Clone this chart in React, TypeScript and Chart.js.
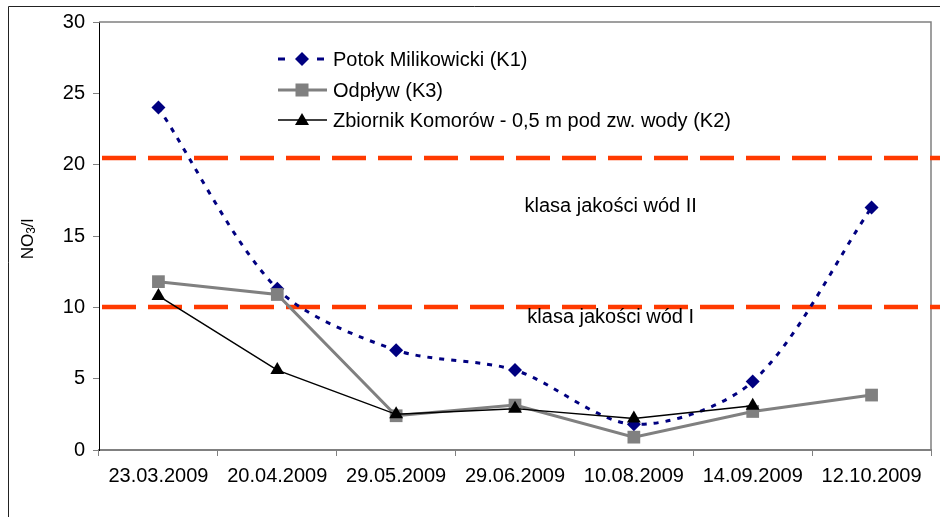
import React, { useEffect, useRef } from 'react';
import { Chart, registerables } from 'chart.js';

Chart.register(...registerables);

const categories = ['23.03.2009', '20.04.2009', '29.05.2009', '29.06.2009', '10.08.2009', '14.09.2009', '12.10.2009'];
const potokK1 = [24.0, 11.3, 7.0, 5.6, 1.8, 4.8, 17.0];
const odplywK3 = [11.8, 10.9, 2.4, 3.15, 0.9, 2.7, 3.85];
const zbiornikK2 = [10.8, 5.6, 2.5, 2.9, 2.2, 3.1, null];
const seriesNames = ['Potok Milikowicki (K1)', 'Odpływ (K3)', 'Zbiornik Komorów - 0,5 m pod zw. wody (K2)'];
const thresholds = [20.5, 10];
const classTexts = ['klasa jakości wód II', 'klasa jakości wód I'];
const classValues = [17.1, 9.3];
const yMin = 0;
const yMax = 30;
const yStep = 5;

const FONT = "'Liberation Sans', Arial, sans-serif";
const NAVY = '#000080';
const GREY = '#808080';
const RED = '#ff3a00';

const decorPlugin = {
  id: 'decor',
  beforeDraw(chart: any) {
    const { ctx, width, height } = chart;
    ctx.save();
    ctx.fillStyle = '#ffffff';
    ctx.fillRect(0, 0, width, height);
    ctx.strokeStyle = '#222222';
    ctx.lineWidth = 1;
    ctx.beginPath();
    ctx.moveTo(8.5, height + 5);
    ctx.lineTo(8.5, 6.5);
    ctx.lineTo(width + 5, 6.5);
    ctx.stroke();
    ctx.restore();
  },
  beforeDatasetsDraw(chart: any) {
    const { ctx, chartArea, width } = chart;
    const y = chart.scales.y;
    ctx.save();
    ctx.strokeStyle = GREY;
    ctx.lineWidth = 1.5;
    ctx.beginPath();
    ctx.moveTo(chartArea.left, chartArea.top);
    ctx.lineTo(chartArea.right, chartArea.top);
    ctx.lineTo(chartArea.right, chartArea.bottom);
    ctx.stroke();

    // threshold lines
    ctx.strokeStyle = RED;
    ctx.lineWidth = 4.5;
    ctx.setLineDash([34, 12]);
    thresholds.forEach((t) => {
      const py = Math.round(y.getPixelForValue(t));
      ctx.beginPath();
      ctx.moveTo(chartArea.left + 3, py);
      ctx.lineTo(width, py);
      ctx.stroke();
    });
    ctx.setLineDash([]);

    // class labels
    ctx.fillStyle = '#000';
    ctx.font = `20px ${FONT}`;
    ctx.textAlign = 'center';
    ctx.textBaseline = 'middle';
    const cx = chartArea.left + (chartArea.right - chartArea.left) * 0.615;
    classTexts.forEach((t, i) => {
      ctx.fillText(t, cx, y.getPixelForValue(classValues[i]));
    });
    ctx.restore();
  },
  afterDatasetsDraw(chart: any) {
    const { ctx, chartArea } = chart;
    ctx.save();
    // legend
    const lx = chartArea.left + 179;
    const rows = [chartArea.top + 37, chartArea.top + 68, chartArea.top + 98];
    ctx.font = `20px ${FONT}`;
    ctx.textAlign = 'left';
    ctx.textBaseline = 'middle';
    // row 1
    ctx.strokeStyle = NAVY;
    ctx.lineWidth = 3;
    ctx.beginPath();
    ctx.moveTo(lx, rows[0]);
    ctx.lineTo(lx + 7, rows[0]);
    ctx.moveTo(lx + 39, rows[0]);
    ctx.lineTo(lx + 46, rows[0]);
    ctx.stroke();
    ctx.fillStyle = NAVY;
    ctx.beginPath();
    const dx = lx + 24;
    ctx.moveTo(dx, rows[0] - 7);
    ctx.lineTo(dx + 7, rows[0]);
    ctx.lineTo(dx, rows[0] + 7);
    ctx.lineTo(dx - 7, rows[0]);
    ctx.closePath();
    ctx.fill();
    // row 2
    ctx.strokeStyle = GREY;
    ctx.lineWidth = 3;
    ctx.beginPath();
    ctx.moveTo(lx, rows[1]);
    ctx.lineTo(lx + 49, rows[1]);
    ctx.stroke();
    ctx.fillStyle = GREY;
    ctx.fillRect(dx - 6.5, rows[1] - 6.5, 13, 13);
    // row 3
    ctx.strokeStyle = '#000';
    ctx.lineWidth = 1.5;
    ctx.beginPath();
    ctx.moveTo(lx, rows[2]);
    ctx.lineTo(lx + 49, rows[2]);
    ctx.stroke();
    ctx.fillStyle = '#000';
    ctx.beginPath();
    ctx.moveTo(dx, rows[2] - 7);
    ctx.lineTo(dx + 7, rows[2] + 5);
    ctx.lineTo(dx - 7, rows[2] + 5);
    ctx.closePath();
    ctx.fill();
    ctx.fillStyle = '#000';
    seriesNames.forEach((n, i) => {
      ctx.fillText(n, lx + 55, rows[i] + 1);
    });

    // y-axis title NO3/l
    ctx.translate(28, chartArea.top + 217);
    ctx.rotate(-Math.PI / 2);
    ctx.font = `17px ${FONT}`;
    const w1 = ctx.measureText('NO').width;
    ctx.font = `12px ${FONT}`;
    const w2 = ctx.measureText('3').width;
    ctx.font = `17px ${FONT}`;
    const w3 = ctx.measureText('/l').width;
    const total = w1 + w2 + w3;
    let x0 = -total / 2;
    ctx.fillText('NO', x0, 0);
    x0 += w1;
    ctx.font = `12px ${FONT}`;
    ctx.fillText('3', x0, 4);
    x0 += w2;
    ctx.font = `17px ${FONT}`;
    ctx.fillText('/l', x0, 0);
    ctx.restore();
  },
};

export default function App() {
  const canvasRef = useRef<HTMLCanvasElement | null>(null);

  useEffect(() => {
    if (!canvasRef.current) return;
    const chart = new Chart(canvasRef.current, {
      type: 'line',
      data: {
        labels: categories,
        datasets: [
          {
            label: seriesNames[0],
            data: potokK1,
            borderColor: NAVY,
            backgroundColor: NAVY,
            borderWidth: 3,
            borderDash: [5, 7],
            pointStyle: 'rectRot',
            pointRadius: 7,
            pointBorderWidth: 0,
            tension: 0.3,
            order: 2,
          },
          {
            label: seriesNames[1],
            data: odplywK3,
            borderColor: GREY,
            backgroundColor: GREY,
            borderWidth: 3,
            pointStyle: 'rect',
            pointRadius: 9,
            pointBorderWidth: 0,
            tension: 0,
            order: 1,
          },
          {
            label: seriesNames[2],
            data: zbiornikK2,
            borderColor: '#000',
            backgroundColor: '#000',
            borderWidth: 1.5,
            pointStyle: 'triangle',
            pointRadius: 8,
            pointBorderWidth: 0,
            tension: 0,
            order: 0,
          },
        ],
      },
      options: {
        animation: false,
        responsive: false,
        maintainAspectRatio: false,
        layout: { padding: { left: 8, right: 8, top: 22, bottom: 0 } },
        plugins: {
          legend: { display: false },
          tooltip: { enabled: false },
        },
        scales: {
          x: {
            offset: true,
            grid: {
              offset: true,
              drawOnChartArea: false,
              drawTicks: true,
              tickLength: 6,
              color: GREY,
              lineWidth: 1,
            },
            border: { color: GREY, width: 2 },
            ticks: {
              color: '#000',
              font: { family: FONT, size: 20 },
              padding: 8,
              maxRotation: 0,
              autoSkip: false,
            },
            afterFit(scale: any) {
              scale.height = 67;
            },
          },
          y: {
            min: yMin,
            max: yMax,
            grid: {
              drawOnChartArea: false,
              drawTicks: true,
              tickLength: 6,
              color: GREY,
            },
            border: { color: '#000', width: 1 },
            ticks: {
              stepSize: yStep,
              color: '#000',
              font: { family: FONT, size: 20 },
              padding: 8,
            },
            afterFit(scale: any) {
              scale.width = 91;
            },
          },
        },
      },
      plugins: [decorPlugin],
    });
    return () => chart.destroy();
  }, []);

  return (
    <div style={{ position: 'absolute', left: 0, top: 0, width: 940, height: 517 }}>
      <canvas ref={canvasRef} width={940} height={517} style={{ display: 'block', width: 940, height: 517 }} />
    </div>
  );
}
